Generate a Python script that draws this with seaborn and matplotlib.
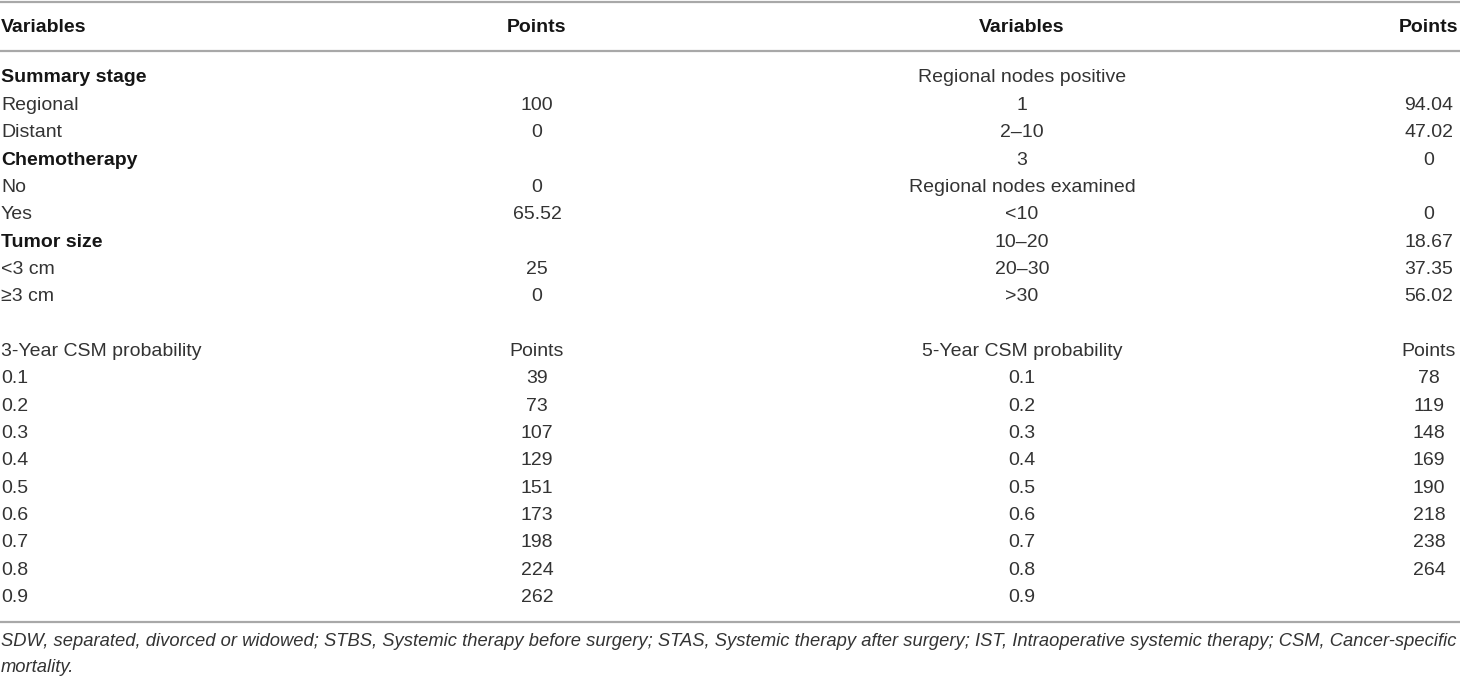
import matplotlib.pyplot as plt
import seaborn as sns

# table contents, row by row (left and right halves)
left_vars = ['Summary stage', 'Regional', 'Distant', 'Chemotherapy', 'No', 'Yes',
             'Tumor size', '<3 cm', '≥3 cm', '',
             '3-Year CSM probability', '0.1', '0.2', '0.3', '0.4', '0.5', '0.6',
             '0.7', '0.8', '0.9']
left_points = ['', '100', '0', '', '0', '65.52', '', '25', '0', '',
               'Points', '39', '73', '107', '129', '151', '173', '198', '224', '262']
left_bold = ['Summary stage', 'Chemotherapy', 'Tumor size']

right_vars = ['Regional nodes positive', '1', '2–10', '3', 'Regional nodes examined',
              '<10', '10–20', '20–30', '>30', '',
              '5-Year CSM probability', '0.1', '0.2', '0.3', '0.4', '0.5', '0.6',
              '0.7', '0.8', '0.9']
right_points = ['', '94.04', '47.02', '0', '', '0', '18.67', '37.35', '56.02', '',
                'Points', '78', '119', '148', '169', '190', '218', '238', '264', '']

headers = ['Variables', 'Points', 'Variables', 'Points']
footnote = ['SDW, separated, divorced or widowed; STBS, Systemic therapy before surgery; '
            'STAS, Systemic therapy after surgery; IST, Intraoperative systemic therapy; '
            'CSM, Cancer-specific',
            'mortality.']

sns.set_theme(style='white')
plt.rcParams['font.family'] = ['Liberation Sans', 'DejaVu Sans']

W, H = 1460, 679
fig = plt.figure(figsize=(W / 100, H / 100), dpi=100)
ax = fig.add_axes([0, 0, 1, 1])
ax.set_xlim(0, W)
ax.set_ylim(H, 0)
ax.axis('off')

# layout
col_x = [1, 537, 1022, 1429]
col_ha = ['left', 'center', 'center', 'center']
row0, row_h = 78, 27.35
header_y = 27
fs = 14
txt_col = '#333333'
bold_col = '#151515'
rule_col = '#a8a8a8'

for x, ha, h in zip(col_x, col_ha, headers):
    ax.text(x, header_y, h, ha=ha, va='center', fontsize=fs,
            fontweight='bold', color=bold_col)

columns = [left_vars, left_points, right_vars, right_points]
for c, (x, ha, vals) in enumerate(zip(col_x, col_ha, columns)):
    for i, v in enumerate(vals):
        if not v:
            continue
        bold = c == 0 and v in left_bold
        ax.text(x, row0 + i * row_h, v, ha=ha, va='center', fontsize=fs,
                fontweight='bold' if bold else 'normal',
                color=bold_col if bold else txt_col)

# horizontal rules
for y in [1.5, 51, 622]:
    ax.axhline(y, color=rule_col, linewidth=1.6)

# footnote, two lines
for j, line in enumerate(footnote):
    ax.text(1, 642 + j * 25, line, ha='left', va='center', fontsize=13.2,
            style='italic', color=txt_col)

fig.savefig('out.png', dpi=100)
